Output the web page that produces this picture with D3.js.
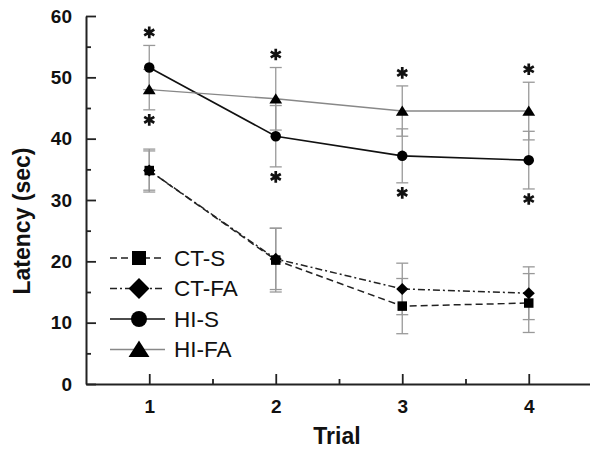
<!DOCTYPE html>
<html>
<head>
<meta charset="utf-8">
<script src="https://cdn.jsdelivr.net/npm/d3@7"></script>
<style>
  body { margin: 0; background: #fff; }
  svg { display: block; font-family: "Liberation Sans", Arial, sans-serif; }
</style>
</head>
<body>
<svg id="chart" width="590" height="450"></svg>
<script>
// data
const trials = [1, 2, 3, 4];
const ctS = [34.8, 20.2, 12.7, 13.2];
const ctSErr = [3.5, 5.2, 4.5, 4.8];
const ctFA = [34.8, 20.4, 15.5, 14.8];
const ctFAErr = [3.2, 5.0, 4.2, 4.3];
const hiS = [51.6, 40.4, 37.2, 36.5];
const hiSErr = [3.6, 5.0, 4.4, 4.7];
const hiFA = [48.0, 46.5, 44.5, 44.5];
const hiFAErr = [3.3, 5.1, 4.1, 4.7];
const yTicks = [0, 10, 20, 30, 40, 50, 60];
const yMinorTicks = [5, 15, 25, 35, 45, 55];
const xMinorTicks = [1.5, 2.5, 3.5];
const sigTrials = [1, 2, 3, 4];

const series = [
    { name: 'CT-S', values: ctS, err: ctSErr, symbol: 'square', dash: '7,4', color: '#222', width: 1.5 },
    { name: 'CT-FA', values: ctFA, err: ctFAErr, symbol: 'diamond', dash: '7,3,2,3', color: '#222', width: 1.5 },
    { name: 'HI-S', values: hiS, err: hiSErr, symbol: 'circle', dash: null, color: '#111', width: 1.6 },
    { name: 'HI-FA', values: hiFA, err: hiFAErr, symbol: 'triangle', dash: null, color: '#888', width: 1.4 },
];

const svg = d3.select('#chart');

const x = d3.scaleLinear().domain([0.5, 4.5]).range([86, 592]);
const y = d3.scaleLinear().domain([0, 60]).range([384, 16]);

function markerPath(type, s) {
    if (type === 'circle') return d3.symbol(d3.symbolCircle, Math.PI * s * s / 4)();
    if (type === 'square') return `M${-s / 2},${-s / 2}h${s}v${s}h${-s}Z`;
    if (type === 'diamond') return `M0,${-s * 0.55}L${s * 0.55},0L0,${s * 0.55}L${-s * 0.55},0Z`;
    // triangle
    return `M0,${-s * 0.5}L${s * 0.58},${s * 0.42}L${-s * 0.58},${s * 0.42}Z`;
}
const markerSize = { circle: 10.5, square: 9.5, diamond: 11, triangle: 11 };

// error bars
const errG = svg.append('g').attr('stroke', '#999').attr('stroke-width', 1.3).attr('fill', 'none');
series.forEach(s => {
    trials.forEach((t, i) => {
        const cx = x(t);
        const top = y(s.values[i] + s.err[i]);
        const bot = y(s.values[i] - s.err[i]);
        errG.append('line').attr('x1', cx).attr('x2', cx).attr('y1', top).attr('y2', bot);
        errG.append('line').attr('x1', cx - 6).attr('x2', cx + 6).attr('y1', top).attr('y2', top);
        errG.append('line').attr('x1', cx - 6).attr('x2', cx + 6).attr('y1', bot).attr('y2', bot);
    });
});

// lines
const line = d3.line().x((d, i) => x(trials[i])).y(d => y(d));
series.forEach(s => {
    svg.append('path')
        .datum(s.values)
        .attr('d', line)
        .attr('fill', 'none')
        .attr('stroke', s.color)
        .attr('stroke-width', s.width)
        .attr('stroke-dasharray', s.dash);
});

// markers
series.forEach(s => {
    svg.append('g').selectAll('path')
        .data(s.values)
        .join('path')
        .attr('transform', (d, i) => `translate(${x(trials[i])},${y(d)})`)
        .attr('d', markerPath(s.symbol, markerSize[s.symbol]))
        .attr('fill', '#000');
});

// significance stars above and below the HI groups
const his = series.filter(s => s.name.startsWith('HI'));
const star = d3.symbol(d3.symbolAsterisk, 95)();
sigTrials.forEach(t => {
    const i = trials.indexOf(t);
    const upper = d3.max(series, s => s.values[i] + s.err[i]);
    const lower = d3.min(his, s => s.values[i] - s.err[i]);
    [y(upper) - 13, y(lower) + 10].forEach(sy => {
        svg.append('path').attr('d', star)
            .attr('transform', `translate(${x(t)},${sy})`)
            .attr('stroke', '#111').attr('stroke-width', 2.7).attr('fill', 'none');
    });
});

// axes
svg.append('g')
    .attr('transform', `translate(${x(0.5)},0)`)
    .call(d3.axisLeft(y).tickValues(yTicks).tickSize(-10).tickSizeOuter(0).tickPadding(14));
svg.append('g')
    .attr('transform', `translate(${x(0.5)},0)`)
    .call(d3.axisLeft(y).tickValues(yMinorTicks).tickSize(-5).tickFormat(''))
    .call(g => g.select('.domain').remove());

svg.append('g')
    .attr('transform', `translate(0,${y(0)})`)
    .call(d3.axisBottom(x).tickValues(trials).tickSize(-10).tickSizeOuter(0).tickPadding(16).tickFormat(d3.format('d')));
svg.append('g')
    .attr('transform', `translate(0,${y(0)})`)
    .call(d3.axisBottom(x).tickValues(xMinorTicks).tickSize(-5).tickFormat(''))
    .call(g => g.select('.domain').remove());

svg.selectAll('.domain').attr('stroke', '#222').attr('stroke-width', 2);
svg.selectAll('.tick line').attr('stroke', '#222').attr('stroke-width', 1.8);
svg.selectAll('.tick text')
    .attr('font-family', '"Liberation Sans", Arial, sans-serif')
    .attr('font-size', 19)
    .attr('font-weight', 'bold')
    .attr('fill', '#111');

// axis titles
svg.append('text')
    .attr('x', x(2.5) - 2)
    .attr('y', 444)
    .attr('text-anchor', 'middle')
    .attr('font-size', 23)
    .attr('font-weight', 'bold')
    .attr('fill', '#111')
    .text('Trial');
svg.append('text')
    .attr('transform', 'translate(30,221) rotate(-90)')
    .attr('text-anchor', 'middle')
    .attr('font-size', 23)
    .attr('font-weight', 'bold')
    .attr('fill', '#111')
    .text('Latency (sec)');

// legend
const legendSize = { circle: 16, square: 14, diamond: 19, triangle: 18 };
const legend = svg.append('g');
series.forEach((s, i) => {
    const ly = 258 + i * 30.5;
    legend.append('line')
        .attr('x1', 110).attr('x2', 165).attr('y1', ly).attr('y2', ly)
        .attr('stroke', s.color).attr('stroke-width', s.width)
        .attr('stroke-dasharray', s.dash);
    legend.append('path')
        .attr('transform', `translate(139,${ly})`)
        .attr('d', markerPath(s.symbol, legendSize[s.symbol]))
        .attr('fill', '#000');
    legend.append('text')
        .attr('x', 174).attr('y', ly + 7.5)
        .attr('font-size', 22.5)
        .attr('fill', '#111')
        .text(s.name);
});
</script>
</body>
</html>
